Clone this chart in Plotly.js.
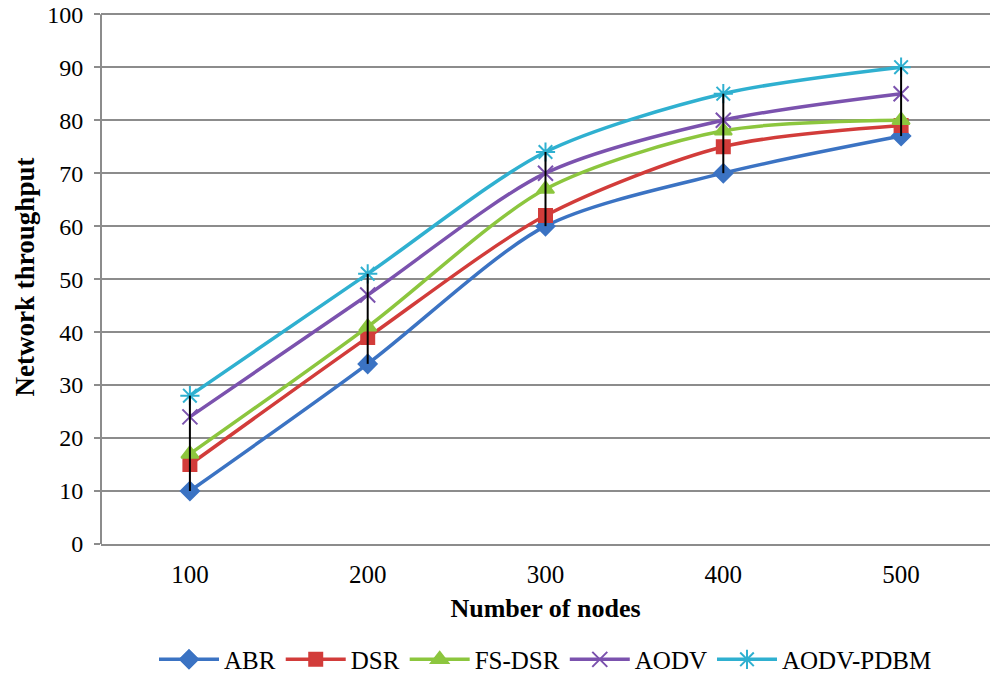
<!DOCTYPE html>
<html>
<head>
<meta charset="utf-8">
<script src="https://cdn.plot.ly/plotly-3.0.1.min.js"></script>
<style>html,body{margin:0;padding:0;background:#fff;}#chart{width:996px;height:680px;}</style>
</head>
<body>
<div id="chart"></div>
<script>
var categories = ["100", "200", "300", "400", "500"];
var abr = [10, 34, 60, 70, 77];
var dsr = [15, 39, 62, 75, 79];
var fsdsr = [17, 41, 67, 78, 80];
var aodv = [24, 47, 70, 80, 85];
var aodvPdbm = [28, 51, 74, 85, 90];
var yMax = 100;
var yStep = 10;

var seriesList = [
  {name: "ABR", y: abr, color: "#3b73c3", symbol: "diamond", size: 14},
  {name: "DSR", y: dsr, color: "#d23c3a", symbol: "square", size: 13},
  {name: "FS-DSR", y: fsdsr, color: "#8cc63e", symbol: "triangle-up", size: 15},
  {name: "AODV", y: aodv, color: "#7b52ae", symbol: "x-thin-open", size: 15},
  {name: "AODV-PDBM", y: aodvPdbm, color: "#2fb0d0", symbol: "asterisk-open", size: 16}
];

var traces = seriesList.map(function (s) {
  return {
    type: "scatter", mode: "lines+markers", name: s.name,
    x: categories, y: s.y,
    line: {color: s.color, width: 3.5, shape: "spline", smoothing: 0.8},
    marker: {symbol: s.symbol, size: s.size, color: s.color, line: {color: s.color, width: 2}}
  };
});

// high-low lines
var hlx = [], hly = [];
categories.forEach(function (c, i) {
  var vals = seriesList.map(function (s) { return s.y[i]; });
  hlx.push(c, c, null);
  hly.push(Math.min.apply(null, vals), Math.max.apply(null, vals), null);
});
traces.push({type: "scatter", mode: "lines", x: hlx, y: hly, showlegend: false,
  hoverinfo: "skip", line: {color: "#000", width: 2}});

var font = "Liberation Serif, Times New Roman, serif";
var layout = {
  width: 996, height: 680,
  margin: {l: 101, r: 6, t: 10, b: 136, autoexpand: false},
  paper_bgcolor: "#fff", plot_bgcolor: "#fff",
  font: {family: font, size: 24, color: "#000"},
  showlegend: true,
  legend: {orientation: "h", x: 0.5, xref: "paper", xanchor: "center", yref: "container", y: 0.03, yanchor: "middle",
    font: {family: font, size: 25, color: "#000"}, itemwidth: 60, tracegroupgap: 0},
  xaxis: {type: "category", range: [-0.5, 4.5], showgrid: false, zeroline: false,
    showline: true, linecolor: "#8c8c8c", linewidth: 2, ticks: "", ticklabelstandoff: 7,
    tickfont: {family: font, size: 25},
    title: {text: "<b>Number of nodes</b>", font: {family: font, size: 26}, standoff: 12}},
  yaxis: {range: [0, 100.8], tickmode: "linear", tick0: 0, dtick: yStep,
    ticklabeloverflow: "allow",
    showgrid: true, gridcolor: "#8c8c8c", gridwidth: 1.5, zeroline: false,
    showline: false, ticks: "outside", ticklen: 6, ticklabelstandoff: 6,
    tickcolor: "#8c8c8c", tickwidth: 2, tickfont: {family: font, size: 24},
    title: {text: "<b>Network throughput</b>", font: {family: font, size: 27}, standoff: 4}},
  shapes: [{type: "line", xref: "paper", yref: "y", x0: 0, x1: 0, y0: 0, y1: yMax,
    line: {color: "#8c8c8c", width: 2}}]
};

Plotly.newPlot("chart", traces, layout, {displayModeBar: false, staticPlot: true});
</script>
</body>
</html>
